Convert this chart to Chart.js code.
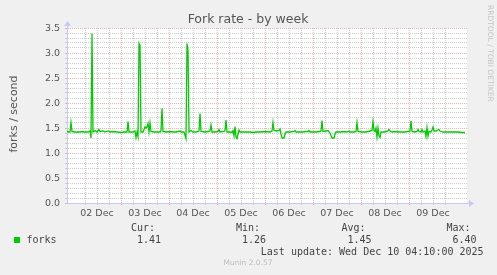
<!DOCTYPE html>
<html>
<head>
<meta charset="utf-8">
<script src="https://cdn.jsdelivr.net/npm/chart.js@4/dist/chart.umd.min.js"></script>
<style>
  html, body { margin: 0; padding: 0; background: #f0f0f0; }
  canvas { display: block; }
</style>
</head>
<body>
<canvas id="fork-chart" width="497" height="275"></canvas>
<script>
// Hours since 01 Dec 00:00 and fork rate
const hours = [
  21, 22, 22.5, 23, 23.5, 24.5, 27.5, 28.5, 29.5, 31.5, 32.5, 33, 33.5, 34, 35, 36, 37, 37.5, 39, 40,
  41.5, 42.5, 44, 46, 48.5, 49.5, 51, 51.5, 52, 54, 55, 55.5, 56, 56.5, 57, 57.5, 58, 59, 60, 60.5,
  61, 61.5, 62, 62.5, 63, 64.5, 66, 67.5, 68, 68.5, 69, 70.5, 72.5, 74, 75.5, 77.5, 78, 79.5, 80.5, 81,
  81.5, 82, 83, 84, 85.5, 86.5, 87, 87.5, 88, 90, 91.5, 92.5, 93, 93.5, 95, 96.5, 97, 97.5, 99.5, 100,
  100.5, 101, 102.5, 103.5, 104, 104.5, 105, 105.5, 106, 106.5, 107, 107.5, 110, 112.5, 114.5, 115.5, 117.5, 120, 122.5, 123.5,
  124, 124.5, 126, 127, 127.5, 128, 128.5, 129.5, 130, 130.5, 132.5, 134.5, 135, 135.5, 137.5, 139, 140.5, 141.5, 142, 142.5,
  145, 147.5, 148, 148.5, 149, 150.5, 151.5, 152.5, 153.5, 154.5, 155, 155.5, 157.5, 159.5, 161, 162, 162.5, 164.5, 165.5, 166,
  166.5, 168.5, 170.5, 172.5, 173.5, 174, 174.5, 175, 175.5, 176, 176.5, 177, 177.5, 178, 179.5, 180.5, 181.5, 182, 182.5, 183.5,
  185.5, 187.5, 189.5, 191.5, 192.5, 193, 193.5, 195, 196, 196.5, 197, 198, 198.5, 199, 200, 200.5, 201, 201.5, 202, 203,
  203.5, 204, 204.5, 205.5, 206.5, 207, 207.5, 209, 211, 213.5, 216.5, 218.5, 220
];
const forks = [
  1.43, 1.42, 1.42, 1.61, 1.43, 1.42, 1.42, 1.43, 1.42, 1.42, 1.44, 1.30, 3.39, 1.42, 1.45, 1.42, 1.47, 1.43, 1.44, 1.42,
  1.44, 1.42, 1.43, 1.42, 1.41, 1.42, 1.42, 1.63, 1.42, 1.42, 1.44, 1.31, 1.42, 1.33, 3.19, 3.15, 1.42, 1.42, 1.52, 1.50,
  1.52, 1.59, 1.42, 1.60, 1.43, 1.42, 1.42, 1.42, 1.44, 1.89, 1.43, 1.42, 1.43, 1.42, 1.42, 1.44, 1.42, 1.42, 1.29, 3.19,
  3.05, 1.42, 1.45, 1.42, 1.42, 1.43, 1.44, 1.79, 1.43, 1.42, 1.43, 1.44, 1.56, 1.42, 1.42, 1.43, 1.47, 1.42, 1.43, 1.45,
  1.66, 1.42, 1.42, 1.41, 1.45, 1.34, 1.53, 1.32, 1.29, 1.38, 1.46, 1.42, 1.42, 1.42, 1.41, 1.42, 1.42, 1.43, 1.42, 1.44,
  1.61, 1.45, 1.44, 1.45, 1.48, 1.38, 1.30, 1.30, 1.38, 1.42, 1.42, 1.43, 1.45, 1.42, 1.42, 1.42, 1.43, 1.43, 1.45, 1.42,
  1.42, 1.43, 1.44, 1.65, 1.43, 1.44, 1.45, 1.40, 1.30, 1.30, 1.38, 1.42, 1.42, 1.43, 1.42, 1.44, 1.42, 1.42, 1.43, 1.61,
  1.43, 1.42, 1.42, 1.44, 1.45, 1.63, 1.45, 1.43, 1.50, 1.32, 1.50, 1.34, 1.31, 1.42, 1.42, 1.43, 1.44, 1.47, 1.44, 1.42,
  1.43, 1.42, 1.42, 1.43, 1.44, 1.64, 1.43, 1.42, 1.43, 1.47, 1.43, 1.42, 1.47, 1.42, 1.44, 1.33, 1.51, 1.34, 1.43, 1.42,
  1.46, 1.52, 1.44, 1.44, 1.46, 1.47, 1.44, 1.42, 1.42, 1.42, 1.42, 1.41, 1.41
];
const dayLabels = ['01 Dec', '02 Dec', '03 Dec', '04 Dec', '05 Dec', '06 Dec', '07 Dec', '08 Dec', '09 Dec', '10 Dec'];
const legendHeads = ['Cur:', 'Min:', 'Avg:', 'Max:'];
const legendValues = ['1.41', '1.26', '1.45', '6.40'];

const minorGrid = 'rgba(185,185,185,0.7)';
const majorGrid = 'rgba(228,120,120,0.55)';
const axisColor = '#c8c8f6';
const lineGreen = '#00cc00';

Chart.defaults.font.family = "'DejaVu Sans', sans-serif";

// background, titles, arrows and the munin style legend
const muninDecor = {
    id: 'muninDecor',
    beforeDraw(chart) {
        const { ctx, chartArea: a } = chart;
        ctx.save();
        ctx.fillStyle = '#f0f0f0';
        ctx.fillRect(0, 0, chart.width, chart.height);
        ctx.fillStyle = '#ffffff';
        ctx.fillRect(a.left, a.top, a.right - a.left, a.bottom - a.top);
        ctx.restore();
    },
    afterDraw(chart) {
        const { ctx, chartArea: a } = chart;
        ctx.save();

        // axis arrows
        ctx.fillStyle = axisColor;
        ctx.strokeStyle = axisColor;
        ctx.lineWidth = 1;
        ctx.beginPath();
        ctx.moveTo(a.left + 0.5, a.top);
        ctx.lineTo(a.left + 0.5, a.top - 3);
        ctx.moveTo(a.right, a.bottom + 0.5);
        ctx.lineTo(a.right + 2, a.bottom + 0.5);
        ctx.stroke();
        ctx.beginPath();
        ctx.moveTo(a.left + 0.5, a.top - 7);
        ctx.lineTo(a.left + 4, a.top - 2);
        ctx.lineTo(a.left - 3, a.top - 2);
        ctx.closePath();
        ctx.fill();
        ctx.beginPath();
        ctx.moveTo(a.right + 7, a.bottom + 0.5);
        ctx.lineTo(a.right + 2, a.bottom - 3);
        ctx.lineTo(a.right + 2, a.bottom + 4);
        ctx.closePath();
        ctx.fill();

        // title
        ctx.fillStyle = '#555555';
        ctx.font = "12.5px 'DejaVu Sans'";
        ctx.textAlign = 'center';
        ctx.textBaseline = 'alphabetic';
        ctx.fillText('Fork rate - by week', 248, 23);

        // y axis title
        ctx.save();
        ctx.translate(14.5, 114);
        ctx.rotate(-Math.PI / 2);
        ctx.font = "11px 'DejaVu Sans'";
        ctx.textBaseline = 'middle';
        ctx.fillText('forks / second', 0, 0);
        ctx.restore();

        // rrdtool credit on the right
        ctx.save();
        ctx.translate(490, 5);
        ctx.rotate(Math.PI / 2);
        ctx.font = "7.5px 'DejaVu Sans'";
        ctx.fillStyle = '#c4c4c4';
        ctx.textAlign = 'left';
        ctx.textBaseline = 'middle';
        ctx.fillText('RRDTOOL / TOBI OETIKER', 0, 0);
        ctx.restore();

        // legend
        ctx.fillStyle = lineGreen;
        ctx.fillRect(14, 237, 6, 6);
        ctx.font = "10px 'DejaVu Sans Mono'";
        ctx.fillStyle = '#444444';
        ctx.textAlign = 'left';
        ctx.textBaseline = 'middle';
        ctx.fillText('forks', 26.5, 240);
        const headX = [131, 236, 341.5, 446.5];
        legendHeads.forEach((h, i) => {
            ctx.fillText(h, headX[i], 228);
            ctx.fillText(legendValues[i], headX[i] + 6, 240);
        });
        ctx.fillText('Last update: Wed Dec 10 04:10:00 2025', 260.8, 252);

        ctx.font = "7.5px 'DejaVu Sans'";
        ctx.fillStyle = '#bdbdbd';
        ctx.textAlign = 'center';
        ctx.fillText('Munin 2.0.57', 248, 263.5);
        ctx.restore();
    }
};

function xGridColor(c) {
    if (!c.tick) return 'rgba(0,0,0,0)';
    const v = c.tick.value;
    if (v % 24 === 0) return majorGrid;
    if (v % 6 === 0) return minorGrid;
    return 'rgba(0,0,0,0)';
}

function yGridColor(c) {
    if (!c.tick) return minorGrid;
    const v = c.tick.value * 2;
    return Math.abs(v - Math.round(v)) < 1e-6 ? majorGrid : minorGrid;
}

new Chart(document.getElementById('fork-chart'), {
    type: 'line',
    data: {
        datasets: [{
            label: 'forks',
            data: hours.map((h, i) => ({ x: h, y: forks[i] })),
            borderColor: lineGreen,
            borderWidth: 1.3,
            pointRadius: 0,
            tension: 0,
            fill: false
        }]
    },
    options: {
        responsive: false,
        animation: false,
        devicePixelRatio: 1,
        layout: { padding: { left: 0, top: 28, right: 30, bottom: 52 } },
        plugins: {
            legend: { display: false },
            tooltip: { enabled: false },
            title: { display: false }
        },
        scales: {
            x: {
                type: 'linear',
                min: 21,
                max: 221,
                afterFit(s) { s.height = 20; },
                grid: { color: xGridColor, tickColor: xGridColor, tickLength: 2, lineWidth: 1 },
                border: { color: axisColor, dash: [1, 1] },
                ticks: {
                    stepSize: 6,
                    maxTicksLimit: 1000,
                    autoSkip: false,
                    maxRotation: 0,
                    padding: 3,
                    color: '#555555',
                    font: { size: 9.5 },
                    callback(v) {
                        return v % 24 === 12 ? dayLabels[Math.floor(v / 24)] : '';
                    }
                }
            },
            y: {
                min: 0,
                max: 3.5,
                afterFit(s) { s.width = 67; },
                grid: { color: yGridColor, tickColor: yGridColor, tickLength: 2, lineWidth: 1 },
                border: { color: axisColor, dash: [1, 1] },
                ticks: {
                    stepSize: 0.1,
                    maxTicksLimit: 1000,
                    autoSkip: false,
                    padding: 5,
                    labelOffset: 1,
                    color: '#555555',
                    font: { size: 9.5 },
                    callback(v) {
                        const d = v * 2;
                        return Math.abs(d - Math.round(d)) < 1e-6 ? v.toFixed(1) : '';
                    }
                }
            }
        }
    },
    plugins: [muninDecor]
});
</script>
</body>
</html>
